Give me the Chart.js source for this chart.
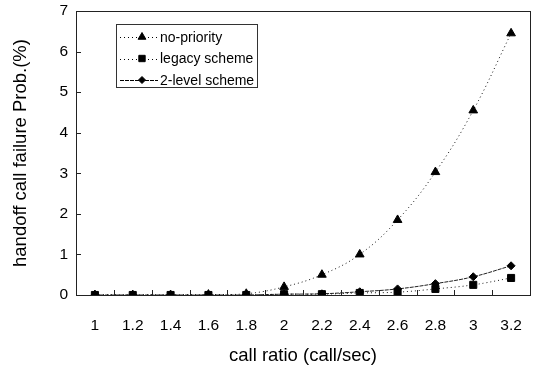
<!DOCTYPE html>
<html>
<head>
<meta charset="utf-8">
<script src="https://cdn.jsdelivr.net/npm/chart.js@4/dist/chart.umd.min.js"></script>
<style>
  html, body { margin: 0; padding: 0; background: #fff; }
  #wrap { width: 537px; height: 370px; }
</style>
</head>
<body>
<div id="wrap"><canvas id="grafico" width="537" height="370"></canvas></div>
<script>
// Datos
const ratios = ['1', '1.2', '1.4', '1.6', '1.8', '2', '2.2', '2.4', '2.6', '2.8', '3', '3.2'];
const noPriority = [0, 0, 0, 0.01, 0.03, 0.2, 0.5, 1.0, 1.85, 3.03, 4.55, 6.45];
const legacy = [0, 0, 0, 0, 0, 0.02, 0.02, 0.05, 0.07, 0.15, 0.25, 0.42];
const twoLevel = [0, 0, 0, 0, 0, 0.02, 0.03, 0.08, 0.15, 0.28, 0.45, 0.72];
const yTicks = [0, 1, 2, 3, 4, 5, 6, 7];

const fuente = '"Liberation Sans", Arial, sans-serif';

// Marco del área de trazado, marcas interiores y leyenda dentro del gráfico
const marcoPlugin = {
    id: 'marco',
    afterDatasetsDraw(chart) {
        const ctx = chart.ctx;
        const a = chart.chartArea;
        const xs = chart.scales.x;
        const ys = chart.scales.y;
        ctx.save();
        ctx.strokeStyle = '#222';
        ctx.lineWidth = 1;
        ctx.strokeRect(a.left + 0.5, a.top + 0.5, a.right - a.left, a.bottom - a.top);
        // marcas en X (entre categorías)
        ctx.beginPath();
        for (let i = 1; i < ratios.length; i++) {
            const px = Math.round((xs.getPixelForValue(i - 1) + xs.getPixelForValue(i)) / 2) + 0.5;
            ctx.moveTo(px, a.bottom);
            ctx.lineTo(px, a.bottom - 5);
        }
        // marcas en Y
        yTicks.forEach(v => {
            const py = Math.round(ys.getPixelForValue(v)) + 0.5;
            ctx.moveTo(a.left, py);
            ctx.lineTo(a.left + 5, py);
        });
        ctx.stroke();

        // leyenda
        const lx = 116, ly = 24, lw = 141, lh = 63;
        ctx.fillStyle = '#fff';
        ctx.fillRect(lx, ly, lw, lh);
        ctx.strokeStyle = '#333';
        ctx.strokeRect(lx + 0.5, ly + 0.5, lw, lh);
        ctx.font = '14px ' + fuente;
        ctx.textBaseline = 'middle';
        chart.data.datasets.forEach((ds, i) => {
            const cy = ly + 13 + i * 21.5;
            ctx.strokeStyle = '#000';
            ctx.setLineDash(ds.borderDash);
            ctx.beginPath();
            ctx.moveTo(lx + 4, Math.round(cy) + 0.5);
            ctx.lineTo(lx + 42, Math.round(cy) + 0.5);
            ctx.stroke();
            ctx.setLineDash([]);
            ctx.fillStyle = '#000';
            Chart.helpers.drawPoint(ctx, {
                pointStyle: ds.pointStyle,
                radius: ds.pointRadius - 0.5,
                rotation: 0,
                borderWidth: 1
            }, lx + 26, cy);
            ctx.fillStyle = '#000';
            ctx.fillText(ds.label, lx + 44, cy + 1);
        });
        ctx.restore();
    }
};

function crearGrafico() {
    const ctx = document.getElementById('grafico').getContext('2d');
    new Chart(ctx, {
        type: 'line',
        data: {
            labels: ratios,
            datasets: [
                {
                    label: 'no-priority',
                    data: noPriority,
                    borderColor: '#111',
                    backgroundColor: '#000',
                    pointBackgroundColor: '#000',
                    pointBorderColor: '#000',
                    borderWidth: 1,
                    borderDash: [1, 3],
                    tension: 0.4,
                    pointStyle: 'triangle',
                    pointRadius: 5
                },
                {
                    label: 'legacy scheme',
                    data: legacy,
                    borderColor: '#111',
                    backgroundColor: '#000',
                    pointBackgroundColor: '#000',
                    pointBorderColor: '#000',
                    borderWidth: 1,
                    borderDash: [1, 3],
                    tension: 0.4,
                    pointStyle: 'rect',
                    pointRadius: 5
                },
                {
                    label: '2-level scheme',
                    data: twoLevel,
                    borderColor: '#222',
                    backgroundColor: '#000',
                    pointBackgroundColor: '#000',
                    pointBorderColor: '#000',
                    borderWidth: 1,
                    borderDash: [4, 1],
                    tension: 0.4,
                    pointStyle: 'rectRot',
                    pointRadius: 4
                }
            ]
        },
        options: {
            responsive: false,
            animation: false,
            layout: { padding: { top: 0, right: 0, left: 10, bottom: 3 } },
            plugins: {
                legend: { display: false },
                tooltip: { enabled: false }
            },
            scales: {
                x: {
                    offset: true,
                    grid: { display: false, drawTicks: false },
                    border: { display: false },
                    afterFit: s => { s.height = 72; s.paddingLeft = 0; s.paddingRight = 7; },
                    ticks: { color: '#000', font: { family: fuente, size: 15.5 }, padding: 21, maxRotation: 0 },
                    title: { display: true, text: 'call ratio (call/sec)', color: '#000', font: { family: fuente, size: 18.5 }, padding: { top: 11, bottom: 0 } }
                },
                y: {
                    min: 0,
                    max: 7,
                    grid: { display: false, drawTicks: false },
                    border: { display: false },
                    afterFit: s => { s.width = 66; s.paddingTop = 11; s.paddingBottom = 0; },
                    afterBuildTicks: s => { s.ticks = yTicks.map(v => ({ value: v })); },
                    ticks: { color: '#000', font: { family: fuente, size: 15.5 }, padding: 8 },
                    title: { display: true, text: 'handoff call failure Prob.(%)', color: '#000', font: { family: fuente, size: 18.5 }, padding: { top: 0, bottom: 10 } }
                }
            }
        },
        plugins: [marcoPlugin]
    });
}

document.addEventListener('DOMContentLoaded', () => {
    crearGrafico();
});
</script>
</body>
</html>
